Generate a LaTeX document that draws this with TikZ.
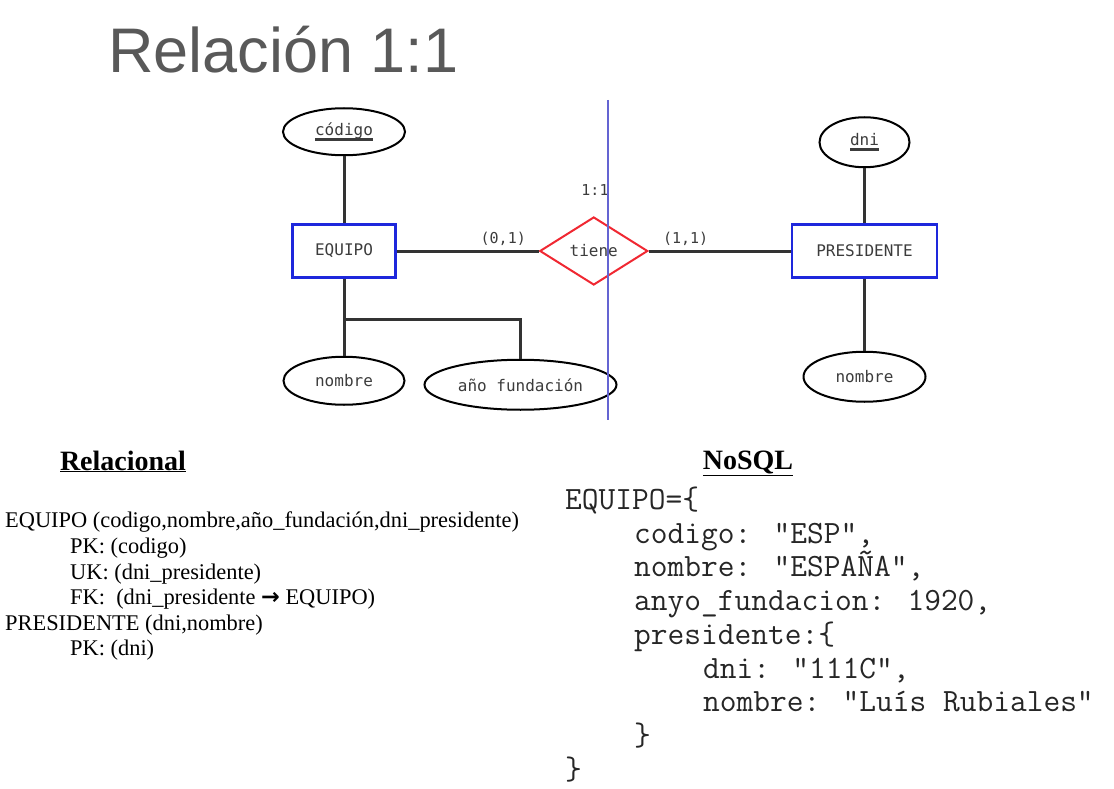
\documentclass[tikz,border=0pt]{standalone}
\usepackage{fontspec}
\setmainfont{Liberation Serif}
\newfontfamily\titlefont{Liberation Sans}
\newfontfamily\erfont{DejaVu Sans Mono}
\newfontfamily\arrowfont{DejaVu Sans}
\usetikzlibrary{shapes.geometric,positioning}

\definecolor{entblue}{RGB}{30,40,220}
\definecolor{relred}{RGB}{240,40,50}
\definecolor{divblue}{RGB}{100,100,210}
\definecolor{titlegray}{RGB}{89,89,89}
\definecolor{ertext}{RGB}{60,60,60}

\newcommand\pkey[1]{\setbox0\hbox{#1}\rlap{\rule[-5pt]{\wd0}{2.5pt}}\box0}

\tikzset{
  erlabel/.style={font=\erfont\fontsize{16}{18}\selectfont, text=ertext},
  entity/.style={rectangle, draw=entblue, line width=2.5pt, inner sep=0pt, erlabel},
  attrib/.style={ellipse, draw, line width=2pt, inner sep=0pt, minimum width=122pt, minimum height=47pt, erlabel},
  relation/.style={diamond, draw=relred, line width=2pt, inner sep=0pt, minimum width=108pt, minimum height=68pt, erlabel},
  link/.style={line width=3pt, draw=black!80},
  card/.style={font=\erfont\fontsize{15}{17}\selectfont, text=ertext, inner sep=4pt},
  divider/.style={line width=1.5pt, draw=divblue},
  reltext/.style={anchor=base west, inner sep=0pt, font=\fontsize{22.4}{26}\selectfont},
  codetext/.style={anchor=base west, inner sep=0pt, font=\ttfamily\fontsize{32.5}{36}\selectfont, text=black!85},
  heading/.style={anchor=base, inner sep=0pt, font=\bfseries\fontsize{28}{32}\selectfont}
}

\begin{document}
\begin{tikzpicture}[x=1pt,y=-1pt]
\useasboundingbox (0,0) rectangle (1114,789);

\node[anchor=base west, inner sep=0pt, font=\titlefont\fontsize{63}{70}\selectfont, text=titlegray] (title) at (108,73) {Relación 1:1};

% ER diagram
\node[entity, minimum width=103pt, minimum height=53pt] (equipo) at (344,251) {EQUIPO};
\node[attrib] (codigo) [above=67pt of equipo] {\pkey{código}};
\node[attrib, minimum width=121pt, minimum height=48pt] (nombreE) [below=77pt of equipo] {nombre};
\node[attrib, minimum width=192pt, minimum height=50pt] (anio) [right=18pt of nombreE, yshift=-4pt] {año fundación};
\node[relation] (tiene) [right=142pt of equipo] {tiene};
\node[entity, minimum width=145pt, minimum height=53pt] (presidente) [right=142pt of tiene] {PRESIDENTE};
\node[attrib, minimum width=90pt, minimum height=50pt] (dni) [above=55pt of presidente] {\pkey{dni}};
\node[attrib, minimum height=50pt] (nombreP) [below=72pt of presidente] {nombre};
\node[card] (ratio) at (595,190) {1:1};

\coordinate (fork) at (343,319);
\coordinate (divtop) at (608,100);
\coordinate (divbot) at (608,420);

\draw[link] (codigo) -- (equipo);
\draw[link] (equipo) -- (nombreE);
\draw[link] (fork) -| (anio.north);
\draw[link] (equipo) -- node[card, above, pos=.75] {(0,1)} (tiene);
\draw[link] (tiene) -- node[card, above, pos=.26] {(1,1)} (presidente);
\draw[link] (dni) -- (presidente);
\draw[link] (presidente) -- (nombreP);
\draw[divider] (divtop) -- (divbot);

% relational model
\node[heading] (relacional) at (123,470) {\underline{Relacional}};
\node[reltext] (r1) at (5,527) {EQUIPO (codigo,nombre,año\_fundación,dni\_presidente)};
\node[reltext] (r2) at (70,553) {PK: (codigo)};
\node[reltext] (r3) at (70,579) {UK: (dni\_presidente)};
\node[reltext] (r4) at (70,604) {FK:\ \ (dni\_presidente {\arrowfont\bfseries →} EQUIPO)};
\node[reltext] (r5) at (5,630) {PRESIDENTE (dni,nombre)};
\node[reltext] (r6) at (70,655) {PK: (dni)};

% NoSQL document
\node[heading] (nosql) at (748,469) {\underline{NoSQL}};
\node[codetext] (c1) at (565,509) {EQUIPO=\{};
\node[codetext] (c2) at (634,543) {codigo: "ESP",};
\node[codetext] (c3) at (634,576) {nombre: "ESPAÑA",};
\node[codetext] (c4) at (634,610) {anyo\_fundacion: 1920,};
\node[codetext] (c5) at (634,644) {presidente:\{};
\node[codetext] (c6) at (703,678) {dni: "111C",};
\node[codetext] (c7) at (703,711) {nombre: "Luís Rubiales"};
\node[codetext] (c8) at (634,745) {\}};
\node[codetext] (c9) at (565,779) {\}};
\end{tikzpicture}
\end{document}
